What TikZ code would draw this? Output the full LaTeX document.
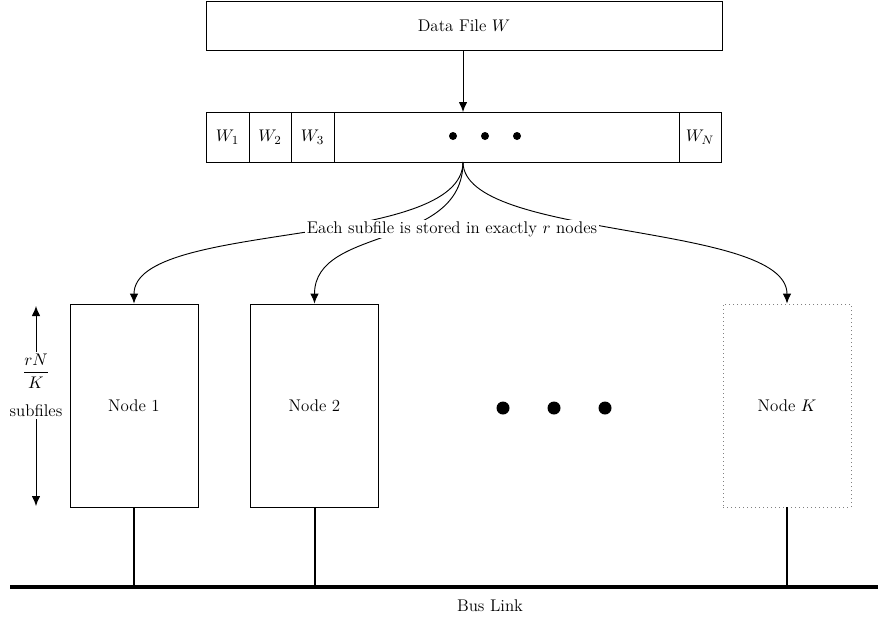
\documentclass[tikz,border=0pt]{standalone}
\usetikzlibrary{arrows.meta}
\begin{document}
\def\u{0.65pt}
\begin{tikzpicture}[x=0.65pt,y=-0.65pt,
  line width=0.6pt,
  font=\fontsize{11}{13.5}\selectfont,
  tip/.style={-{Latex[length=6.5pt,width=5.5pt]}},
  box/.style={draw, inner sep=0pt, minimum height=50*\u},
  nodebox/.style={draw, inner sep=0pt, minimum width=128*\u, minimum height=203*\u},
  dot/.style={circle, fill=black, inner sep=0pt, minimum size=#1*\u},
  stub/.style={line width=1.3pt},
]
\useasboundingbox (0,0) rectangle (878,621);

% data file
\node[draw, inner sep=0pt, minimum width=516*\u, minimum height=49*\u] (data) at (464,25.5) {Data File $W$};

% subfile row
\node[box, minimum width=43*\u] (w1) at (227.5,137) {$W_1$};
\node[box, minimum width=42*\u] (w2) at (270,137) {$W_2$};
\node[box, minimum width=43*\u] (w3) at (312.5,137) {$W_3$};
\node[box, minimum width=345*\u] (wm) at (506.5,137) {};
\node[box, minimum width=42*\u] (wn) at (700,137) {$W_N$};
\node[dot=8] (d1) at (453,136) {};
\node[dot=8] (d2) at (485,136) {};
\node[dot=8] (d3) at (517,136) {};

\coordinate (rowtop) at (463,112);
\coordinate (split) at (463,162);
\draw[tip] (data.south -| rowtop) -- (rowtop);

% nodes
\node[nodebox] (n1) at (134,405.5) {Node 1};
\node[nodebox] (n2) at (314.5,405.5) {Node 2};
\node[nodebox, draw=gray, dotted] (nk) at (787,405.5) {Node $K$};
\node[dot=13] (e1) at (503,408) {};
\node[dot=13] (e2) at (554,408) {};
\node[dot=13] (e3) at (605,408) {};

% curves
\draw[tip] (split) .. controls (463,250) and (134,220) .. (n1.north);
\draw[tip] (split) .. controls (463,250) and (314.5,225) .. (n2.north);
\draw[tip] (split) .. controls (463,240) and (787,222) .. (nk.north);
\node[fill=white, inner sep=1pt] (lbl) at (452,229) {Each subfile is stored in exactly $r$ nodes};

% size arrow
\coordinate (atop) at (36,306);
\coordinate (abot) at (36,506);
\node[inner sep=1pt] (frac) at (36,371) {$\displaystyle\frac{rN}{K}$};
\node[inner sep=1pt] (subf) at (36,411) {subfiles};
\draw[tip] (frac.north) -- (atop);
\draw[tip] (subf.south) -- (abot);

% bus
\coordinate (busL) at (10,587);
\coordinate (busR) at (878,587);
\draw[line width=2pt] (busL) -- (busR);
\node (bus) at (490,606) {Bus Link};
\draw[stub] (n1.south) -- (n1.south |- busL);
\draw[stub] (n2.south) -- (n2.south |- busL);
\draw[stub] (nk.south) -- (nk.south |- busL);
\end{tikzpicture}
\end{document}
